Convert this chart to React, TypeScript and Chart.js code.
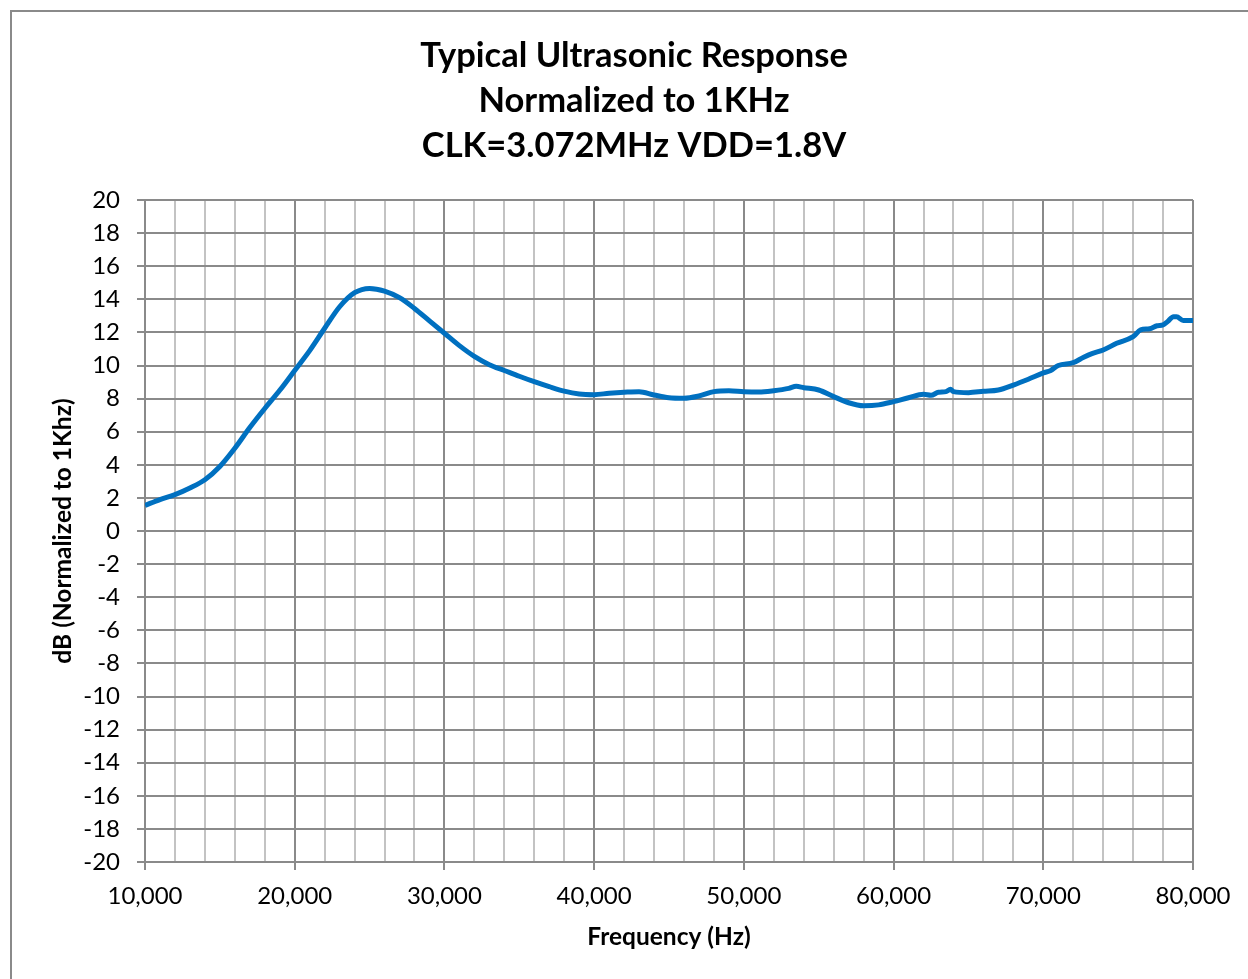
import React, { useEffect, useRef } from 'react';
import { Chart, registerables } from 'chart.js';

Chart.register(...registerables);

const TITLE_LINES = ['Typical Ultrasonic Response', 'Normalized to 1KHz', 'CLK=3.072MHz VDD=1.8V'];
const X_TITLE = 'Frequency (Hz)';
const Y_TITLE = 'dB (Normalized to 1Khz)';

const FREQ_HZ = [
  10000, 11000, 12000, 13000, 14000, 15000, 16000, 17000, 18000, 19000,
  20000, 21000, 22000, 23000, 24000, 25000, 26000, 27000, 28000, 29000,
  30000, 31000, 32000, 33000, 34000, 35000, 36000, 37000, 38000, 39000,
  40000, 41000, 42000, 43000, 44000, 45000, 46000, 47000, 48000, 49000,
  50000, 51000, 52000, 53000, 53500, 54000, 55000, 56000, 57000, 58000,
  59000, 60000, 61000, 62000, 62500, 63000, 63500, 63800, 64000, 65000,
  66000, 67000, 68000, 69000, 70000, 70500, 71000, 72000, 72700, 73250,
  74000, 74900, 76000, 76500, 77100, 77600, 78000, 78300, 78700, 78900,
  79350, 80000,
];

const RESPONSE_DB = [
  1.55, 1.9, 2.2, 2.6, 3.1, 3.9, 5.0, 6.25, 7.4, 8.5,
  9.7, 10.9, 12.25, 13.55, 14.4, 14.66, 14.5, 14.1, 13.45, 12.7,
  11.95, 11.2, 10.55, 10.05, 9.7, 9.35, 9.02, 8.72, 8.45, 8.28,
  8.24, 8.32, 8.38, 8.42, 8.22, 8.05, 8.02, 8.16, 8.42, 8.48,
  8.42, 8.4, 8.48, 8.62, 8.74, 8.66, 8.52, 8.12, 7.75, 7.57,
  7.62, 7.82, 8.05, 8.26, 8.2, 8.38, 8.42, 8.56, 8.42, 8.36,
  8.44, 8.52, 8.82, 9.17, 9.55, 9.7, 10.0, 10.17, 10.5, 10.72,
  10.94, 11.34, 11.74, 12.15, 12.22, 12.4, 12.45, 12.65, 12.95, 12.95,
  12.72, 12.72,
];

const X_MIN = 10000;
const X_MAX = 80000;
const X_STEP = 2000;
const X_LABEL_STEP = 10000;
const Y_MIN = -20;
const Y_MAX = 20;
const Y_STEP = 2;

const W = 1248;
const H = 979;
const AREA = { left: 145, right: 1193, top: 200, bottom: 862 };
const PAD_LEFT = 30;
const FONT = 'Lato, "Open Sans", sans-serif';
const DARK = '#8a8a8a';
const LIGHT = '#c3c3c3';
const LINE = '#0070C0';

const headerPlugin = {
  id: 'header',
  beforeDraw(chart: any) {
    const ctx = chart.ctx;
    ctx.save();
    ctx.fillStyle = '#ffffff';
    ctx.fillRect(0, 0, W, H);
    ctx.fillStyle = DARK;
    ctx.fillRect(10, 10, 2, H);
    ctx.fillRect(10, 10, W, 2);
    ctx.restore();
  },
  afterDraw(chart: any) {
    const ctx = chart.ctx;
    ctx.save();
    ctx.fillStyle = '#000';
    ctx.font = `bold 34.5px ${FONT}`;
    ctx.textAlign = 'center';
    ctx.textBaseline = 'alphabetic';
    const baselines = [67, 112, 157];
    TITLE_LINES.forEach((t, i) => ctx.fillText(t, 634, baselines[i]));
    ctx.restore();
  },
};

export default function App() {
  const ref = useRef<HTMLCanvasElement | null>(null);
  useEffect(() => {
    if (!ref.current) return;
    const isMajor = (v: number) => Math.round(v) % X_LABEL_STEP === 0;
    const chart = new Chart(ref.current, {
      type: 'line',
      data: {
        datasets: [
          {
            data: FREQ_HZ.map((f, i) => ({ x: f, y: RESPONSE_DB[i] })),
            borderColor: LINE,
            borderWidth: 5,
            pointRadius: 0,
            cubicInterpolationMode: 'monotone',
            fill: false,
          },
        ],
      },
      options: {
        responsive: false,
        animation: false,
        devicePixelRatio: 1,
        layout: { padding: { left: PAD_LEFT, right: W - AREA.right, top: AREA.top, bottom: 0 } },
        plugins: { legend: { display: false }, tooltip: { enabled: false }, title: { display: false } },
        scales: {
          x: {
            type: 'linear',
            min: X_MIN,
            max: X_MAX,
            afterFit: (s: any) => { s.height = H - AREA.bottom; },
            ticks: {
              stepSize: X_STEP,
              autoSkip: false,
              maxRotation: 0,
              padding: 12,
              color: '#000',
              font: { family: FONT, size: 24 },
              callback: (v: any) => (isMajor(Number(v)) ? Number(v).toLocaleString('en-US') : ''),
            },
            grid: {
              color: (c: any) => (c.tick && isMajor(c.tick.value) ? DARK : LIGHT),
              tickColor: (c: any) => (c.tick && isMajor(c.tick.value) ? DARK : 'rgba(0,0,0,0)'),
              lineWidth: 2,
              tickLength: 8,
            },
            border: { color: DARK, width: 2 },
            title: {
              display: true,
              text: X_TITLE,
              color: '#000',
              font: { family: FONT, size: 24.5, weight: 'bold' },
              padding: { top: 0, bottom: 27 },
            },
          },
          y: {
            type: 'linear',
            min: Y_MIN,
            max: Y_MAX,
            afterFit: (s: any) => { s.width = AREA.left - PAD_LEFT; },
            ticks: {
              stepSize: Y_STEP,
              padding: 17,
              color: '#000',
              font: { family: FONT, size: 24 },
            },
            grid: { color: DARK, lineWidth: 2, tickLength: 8, tickColor: DARK },
            border: { color: DARK, width: 2 },
            title: {
              display: true,
              text: Y_TITLE,
              color: '#000',
              font: { family: FONT, size: 24.5, weight: 'bold' },
              padding: { top: 18, bottom: 0 },
            },
          },
        },
      },
      plugins: [headerPlugin],
    } as any);
    return () => chart.destroy();
  }, []);
  return (
    <div style={{ position: 'absolute', left: 0, top: 0, width: W, height: H, background: '#fff' }}>
      <canvas ref={ref} width={W} height={H} style={{ display: 'block', width: W, height: H }} />
    </div>
  );
}
